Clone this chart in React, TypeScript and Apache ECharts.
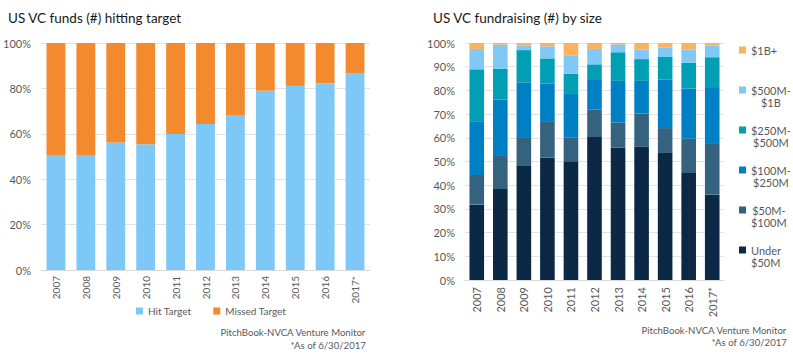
import React, { useEffect, useRef } from "react";
import * as echarts from "echarts";

const years = ["2007", "2008", "2009", "2010", "2011", "2012", "2013", "2014", "2015", "2016", "2017*"];
const hitTarget = [50.7, 50.7, 56.2, 55.4, 59.9, 64.3, 68.3, 79.0, 81.1, 82.2, 86.8];
const missedTarget = [49.3, 49.3, 43.8, 44.6, 40.1, 35.7, 31.7, 21.0, 18.9, 17.8, 13.2];

const under50 = [31.8, 38.4, 48.1, 51.6, 50.1, 60.3, 55.8, 56.2, 53.6, 45.5, 36.0];
const m50to100 = [12.5, 14.3, 12.2, 15.1, 9.9, 11.7, 10.7, 14.0, 10.5, 14.1, 21.4];
const m100to250 = [22.4, 23.5, 23.1, 16.1, 18.5, 12.4, 17.5, 13.8, 20.4, 21.2, 24.0];
const m250to500 = [22.2, 13.0, 13.6, 10.7, 8.5, 6.6, 12.1, 9.2, 9.6, 10.9, 12.6];
const m500to1b = [8.6, 10.1, 2.0, 5.1, 7.6, 6.5, 3.3, 4.1, 3.9, 5.6, 4.9];
const over1b = [2.5, 0.7, 1.0, 1.4, 5.4, 2.5, 0.6, 2.7, 2.0, 2.8, 1.1];

const sizeNames = ["Under $50M", "$50M-$100M", "$100M-$250M", "$250M-$500M", "$500M-$1B", "$1B+"];
const sizeColors = ["#0B2944", "#35627E", "#0080C4", "#009FB3", "#80C8F5", "#FBB15D"];
const sizeData = [under50, m50to100, m100to250, m250to500, m500to1b, over1b];
const legendLabels: Record<string, string> = {
  "$1B+": "{c|$1B+}",
  "$500M-$1B": "{c|$500M-}\n{c|$1B}",
  "$250M-$500M": "{c|$250M-}\n{c|$500M}",
  "$100M-$250M": "{c|$100M-}\n{c|$250M}",
  "$50M-$100M": "{c|$50M-}\n{c|$100M}",
  "Under $50M": "{l|Under}\n{l|$50M}",
};

const FONT = "Lato, 'Noto Sans', sans-serif";
const GRAY = "#595959";

export default function App() {
  const ref = useRef<HTMLDivElement>(null);
  useEffect(() => {
    if (!ref.current) return;
    const chart = echarts.init(ref.current, undefined, { renderer: "svg" });
    const axisLabel = { color: GRAY, fontFamily: FONT, fontSize: 11 };
    const option: any = {
      animation: false,
      textStyle: { fontFamily: FONT },
      grid: [
        { left: 41, right: 423, top: 43, bottom: 91 },
        { left: 465, right: 69, top: 43, bottom: 81 },
      ],
      xAxis: [
        {
          type: "category", gridIndex: 0, data: years,
          axisLine: { lineStyle: { color: "#d9d9d9" } }, axisTick: { show: false },
          axisLabel: { ...axisLabel, fontSize: 10, rotate: 90, margin: 6 },
        },
        {
          type: "category", gridIndex: 1, data: years,
          axisLine: { lineStyle: { color: "#d9d9d9" } }, axisTick: { show: false },
          axisLabel: { ...axisLabel, fontSize: 11, rotate: 90, margin: 7 },
        },
      ],
      yAxis: [
        {
          type: "value", gridIndex: 0, min: 0, max: 100, interval: 20,
          axisLabel: { ...axisLabel, formatter: "{value}%", margin: 10 },
          splitLine: { lineStyle: { color: "#e3e3e3" } },
        },
        {
          type: "value", gridIndex: 1, min: 0, max: 100, interval: 10,
          axisLabel: { ...axisLabel, formatter: "{value}%", margin: 10 },
          splitLine: { lineStyle: { color: "#e3e3e3" } },
        },
      ],
      legend: [
        {
          data: ["Hit Target", "Missed Target"],
          left: 136, top: 306, padding: 0, itemWidth: 7, itemHeight: 7, itemGap: 22, icon: "rect",
          textStyle: { color: GRAY, fontFamily: FONT, fontSize: 10 },
        },
        {
          orient: "vertical",
          data: [
            { name: "$1B+", textStyle: { padding: [12, 0, 12, 0] } },
            "$500M-$1B", "$250M-$500M", "$100M-$250M", "$50M-$100M", "Under $50M",
          ],
          left: 739, top: 32, padding: 0, itemWidth: 7, itemHeight: 7, itemGap: 4, icon: "rect",
          formatter: (n: string) => legendLabels[n] ?? n,
          textStyle: {
            color: GRAY, fontFamily: FONT, fontSize: 11, lineHeight: 12, padding: [12, 0, 0, 0],
            rich: {
              c: { align: "center", color: GRAY, fontFamily: FONT, fontSize: 11, lineHeight: 12 },
              l: { align: "left", color: GRAY, fontFamily: FONT, fontSize: 11, lineHeight: 12 },
            },
          },
        },
      ],
      graphic: [
        { type: "text", left: 8, top: 11, style: { text: "US VC funds (#) hitting target", fill: "#1a1a1a", font: `13.5px ${FONT}` } },
        { type: "text", left: 433, top: 11, style: { text: "US VC fundraising (#) by size", fill: "#1a1a1a", font: `13.5px ${FONT}` } },
        { type: "text", right: 427, top: 327.5, style: { text: "PitchBook-NVCA Venture Monitor", fill: GRAY, font: `9.6px ${FONT}` } },
        { type: "text", right: 427, top: 340, style: { text: "*As of 6/30/2017", fill: GRAY, font: `9.6px ${FONT}` } },
        { type: "text", right: 6, top: 325, style: { text: "PitchBook-NVCA Venture Monitor", fill: GRAY, font: `9.6px ${FONT}` } },
        { type: "text", right: 6, top: 337.5, style: { text: "*As of 6/30/2017", fill: GRAY, font: `9.6px ${FONT}` } },
      ],
      series: [
        { name: "Hit Target", type: "bar", stack: "t", xAxisIndex: 0, yAxisIndex: 0, data: hitTarget, barCategoryGap: "37%", itemStyle: { color: "#7DC8F7" } },
        { name: "Missed Target", type: "bar", stack: "t", xAxisIndex: 0, yAxisIndex: 0, data: missedTarget, barCategoryGap: "37%", itemStyle: { color: "#F48A2E" } },
        ...sizeNames.map((n, i) => ({
          name: n, type: "bar", stack: "s", xAxisIndex: 1, yAxisIndex: 1, data: sizeData[i],
          barCategoryGap: "38%", itemStyle: { color: sizeColors[i] },
        })),
      ],
    };
    chart.setOption(option);
    return () => chart.dispose();
  }, []);
  return <div ref={ref} style={{ position: "absolute", left: 0, top: 0, width: 793, height: 361 }} />;
}
